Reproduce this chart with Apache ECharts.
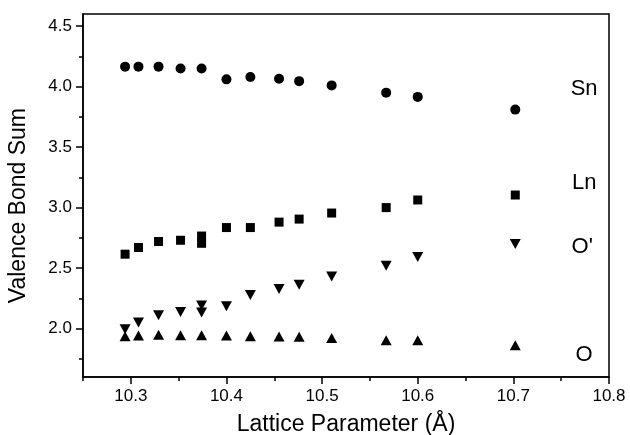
<!DOCTYPE html>
<html><head><meta charset="utf-8">
<script src="https://cdn.jsdelivr.net/npm/echarts@6/dist/echarts.min.js"></script>
<style>html,body{margin:0;padding:0;background:#fff}#c{width:630px;height:435px}</style>
</head><body><div id="c"></div>
<script>
// Lattice parameter (Å) for each sample
const xSn = [10.294, 10.308, 10.329, 10.352, 10.374, 10.400, 10.425, 10.455, 10.476, 10.510, 10.567, 10.600, 10.702];
const ySn = [4.165, 4.165, 4.165, 4.15, 4.15, 4.06, 4.08, 4.065, 4.045, 4.01, 3.95, 3.915, 3.81];
const xLn = [10.294, 10.308, 10.329, 10.352, 10.374, 10.374, 10.400, 10.425, 10.455, 10.476, 10.510, 10.567, 10.600, 10.702];
const yLn = [2.615, 2.67, 2.72, 2.73, 2.765, 2.705, 2.835, 2.835, 2.88, 2.905, 2.955, 3.0, 3.063, 3.104];
const xOp = [10.294, 10.308, 10.329, 10.352, 10.374, 10.374, 10.400, 10.425, 10.455, 10.476, 10.510, 10.567, 10.600, 10.702];
const yOp = [1.995, 2.05, 2.11, 2.137, 2.19, 2.134, 2.184, 2.278, 2.327, 2.362, 2.431, 2.519, 2.591, 2.70];
const xO = [10.294, 10.308, 10.329, 10.352, 10.374, 10.400, 10.425, 10.455, 10.476, 10.510, 10.567, 10.600, 10.702];
const yO = [1.937, 1.942, 1.95, 1.945, 1.945, 1.942, 1.937, 1.934, 1.932, 1.923, 1.904, 1.904, 1.862];

const seriesNames = ['Sn', 'Ln', "O'", 'O'];
const nameLabelX = [10.774, 10.774, 10.772, 10.774];
const nameLabelY = [3.981, 3.203, 2.676, 1.786];

const xMajor = [10.3, 10.4, 10.5, 10.6, 10.7, 10.8];
const xMinor = [10.25, 10.35, 10.45, 10.55, 10.65, 10.75];
const yMajor = [2.0, 2.5, 3.0, 3.5, 4.0, 4.5];
const yMinor = [1.75, 2.25, 2.75, 3.25, 3.75, 4.25];

const FONT = "'Liberation Sans', Arial, Helvetica, sans-serif";
const zip = (a, b) => a.map((v, i) => [v, b[i]]);

const chart = echarts.init(document.getElementById('c'), null, {renderer: 'canvas'});
const xBase = {type: 'value', min: 10.25, max: 10.8, splitLine: {show: false}};
const yBase = {type: 'value', min: 1.6, max: 4.6, splitLine: {show: false}};
const mark = {color: '#000', opacity: 1};

chart.setOption({
  animation: false,
  backgroundColor: '#fff',
  grid: {left: 83, right: 21, top: 14, bottom: 58, containLabel: false, outerBoundsMode: 'none',
         show: true, borderColor: '#000', borderWidth: 1.5, backgroundColor: 'transparent'},
  xAxis: [
    Object.assign({}, xBase, {
      name: 'Lattice Parameter (Å)', nameLocation: 'middle', nameGap: 36,
      nameTextStyle: {fontFamily: FONT, fontSize: 23, color: '#000'},
      axisLine: {show: true, lineStyle: {color: '#000', width: 1.5}},
      axisTick: {show: true, inside: false, length: 7, customValues: xMajor, lineStyle: {color: '#000', width: 1.5}},
      axisLabel: {customValues: xMajor, margin: 11, fontFamily: FONT, fontSize: 17, color: '#000', formatter: v => v.toFixed(1)}
    }),
    Object.assign({}, xBase, {
      position: 'bottom', axisLine: {show: false},
      axisTick: {show: true, inside: false, length: 4, customValues: xMinor, lineStyle: {color: '#000', width: 1.5}},
      axisLabel: {show: false}
    })
  ],
  yAxis: [
    Object.assign({}, yBase, {
      axisLine: {show: true, lineStyle: {color: '#000', width: 1.5}},
      axisTick: {show: true, inside: false, length: 7, customValues: yMajor, lineStyle: {color: '#000', width: 1.5}},
      axisLabel: {customValues: yMajor, margin: 11, fontFamily: FONT, fontSize: 17, color: '#000', formatter: v => v.toFixed(1)}
    }),
    Object.assign({}, yBase, {
      position: 'left', axisLine: {show: false},
      axisTick: {show: true, inside: false, length: 4, customValues: yMinor, lineStyle: {color: '#000', width: 1.5}},
      axisLabel: {show: false}
    })
  ],
  graphic: [{
    type: 'text', left: 7, top: 108, rotation: Math.PI / 2,
    style: {text: 'Valence Bond Sum', font: '23px ' + FONT, fill: '#000'}
  }],
  series: [
    {type: 'scatter', name: 'Sn', data: zip(xSn, ySn), symbol: 'circle', symbolSize: 10, itemStyle: mark},
    {type: 'scatter', name: 'Ln', data: zip(xLn, yLn), symbol: 'rect', symbolSize: 9, itemStyle: mark},
    {type: 'scatter', name: "O'", data: zip(xOp, yOp), symbol: 'triangle', symbolRotate: 180, symbolSize: [11, 10], itemStyle: mark},
    {type: 'scatter', name: 'O', data: zip(xO, yO), symbol: 'triangle', symbolSize: [11, 10], itemStyle: mark},
    {type: 'scatter', name: 'labels', symbolSize: 0, silent: true, itemStyle: mark,
     data: seriesNames.map((n, i) => ({value: [nameLabelX[i], nameLabelY[i]], name: n})),
     label: {show: true, position: 'inside', formatter: p => p.name, fontFamily: FONT, fontSize: 22, color: '#000', opacity: 1}}
  ]
});
</script></body></html>
